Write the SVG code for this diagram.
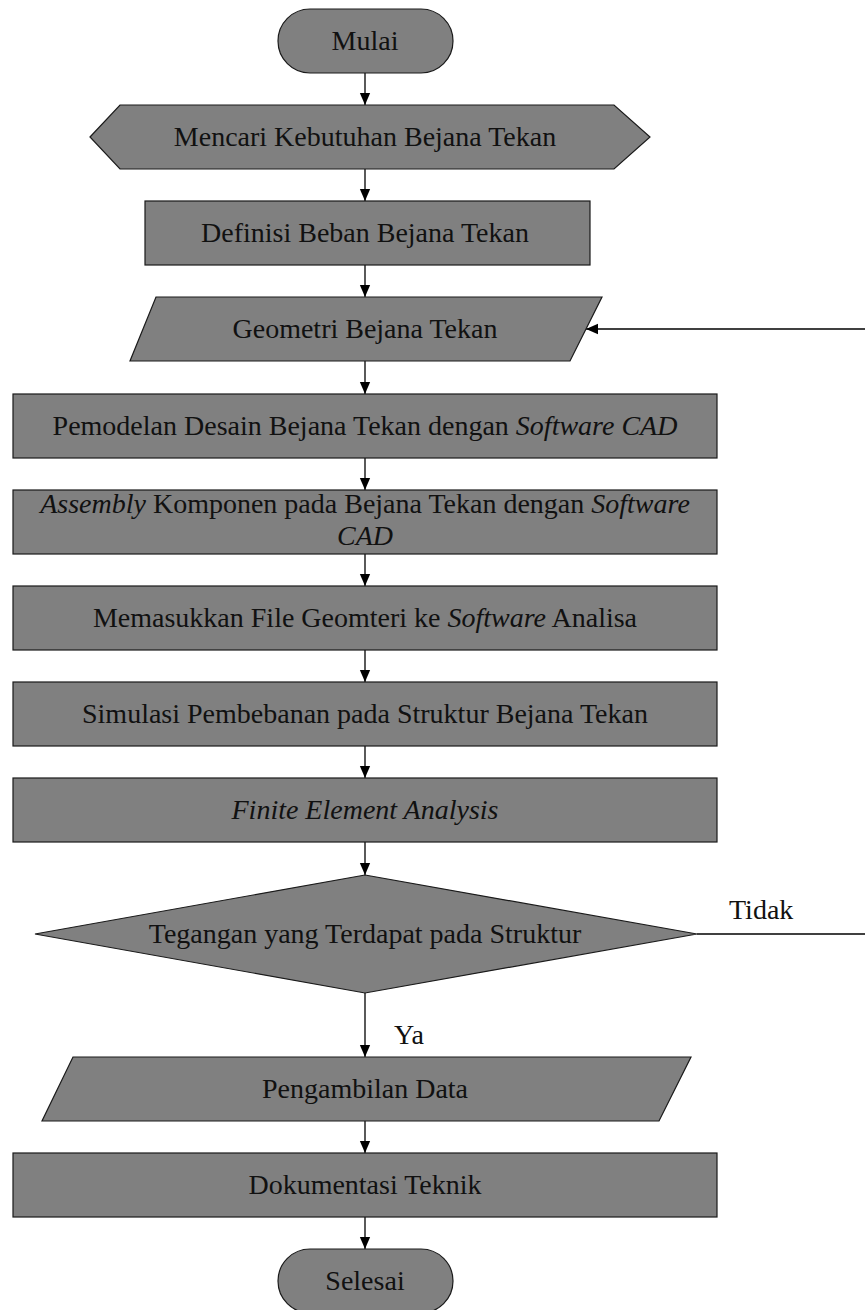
<svg xmlns="http://www.w3.org/2000/svg" width="865" height="1310" viewBox="0 0 865 1310">
<defs>
<marker id="ah" markerUnits="userSpaceOnUse" markerWidth="12" markerHeight="14" viewBox="0 0 14 12" refX="14" refY="6" orient="auto">
<path d="M0,0 L14,6 L0,12 z" fill="#000"/>
</marker>
<style>
.s{fill:#808080;stroke:#1a1a1a;stroke-width:1.2}
.t{font-family:"Liberation Serif","Times New Roman",serif;font-size:28px;fill:#111;text-anchor:middle}
.l{font-family:"Liberation Serif","Times New Roman",serif;font-size:28px;fill:#111}
.c{stroke:#000;stroke-width:1.3;fill:none}
.a{marker-end:url(#ah)}
</style>
</defs>
<rect width="865" height="1310" fill="#fff"/>
<g id="connectors">
<line class="c a" x1="365" y1="73" x2="365" y2="105"/>
<line class="c a" x1="365" y1="169" x2="365" y2="201"/>
<line class="c a" x1="365" y1="265" x2="365" y2="297"/>
<line class="c a" x1="365" y1="361" x2="365" y2="394"/>
<line class="c a" x1="365" y1="458" x2="365" y2="490"/>
<line class="c a" x1="365" y1="554" x2="365" y2="586"/>
<line class="c a" x1="365" y1="650" x2="365" y2="682"/>
<line class="c a" x1="365" y1="746" x2="365" y2="778"/>
<line class="c a" x1="365" y1="842" x2="365" y2="875"/>
<line class="c a" x1="365" y1="993" x2="365" y2="1057"/>
<line class="c a" x1="365" y1="1121" x2="365" y2="1153"/>
<line class="c a" x1="365" y1="1217" x2="365" y2="1249"/>
<line class="c a" x1="865" y1="329" x2="586" y2="329"/>
<line class="c" x1="697" y1="934" x2="865" y2="934"/>
<text class="l" x="729" y="919">Tidak</text>
<text class="l" x="394" y="1044">Ya</text>
</g>
<g id="n-mulai">
<rect class="s" x="278" y="9" width="175" height="64" rx="32" ry="32"/>
<text class="t" x="365" y="50">Mulai</text>
</g>
<g id="n-kebutuhan">
<polygon class="s" points="90,137 120,105 614,105 650,137 614,169 120,169"/>
<text class="t" x="365" y="146">Mencari Kebutuhan Bejana Tekan</text>
</g>
<g id="n-definisi">
<rect class="s" x="145" y="201" width="445" height="64"/>
<text class="t" x="365" y="242">Definisi Beban Bejana Tekan</text>
</g>
<g id="n-geometri">
<polygon class="s" points="156,297 602,297 570,361 130,361"/>
<text class="t" x="365" y="338">Geometri Bejana Tekan</text>
</g>
<g id="n-pemodelan">
<rect class="s" x="13" y="394" width="704" height="64"/>
<text class="t" x="365" y="435">Pemodelan Desain Bejana Tekan dengan <tspan font-style="italic">Software CAD</tspan></text>
</g>
<g id="n-assembly">
<rect class="s" x="13" y="490" width="704" height="64"/>
<text class="t" x="365" y="513"><tspan font-style="italic">Assembly</tspan> Komponen pada Bejana Tekan dengan <tspan font-style="italic">Software</tspan></text>
<text class="t" x="365" y="545" font-style="italic">CAD</text>
</g>
<g id="n-memasukkan">
<rect class="s" x="13" y="586" width="704" height="64"/>
<text class="t" x="365" y="627">Memasukkan File Geomteri ke <tspan font-style="italic">Software</tspan> Analisa</text>
</g>
<g id="n-simulasi">
<rect class="s" x="13" y="682" width="704" height="64"/>
<text class="t" x="365" y="723">Simulasi Pembebanan pada Struktur Bejana Tekan</text>
</g>
<g id="n-fea">
<rect class="s" x="13" y="778" width="704" height="64"/>
<text class="t" x="365" y="819" font-style="italic">Finite Element Analysis</text>
</g>
<g id="n-tegangan">
<polygon class="s" points="365,875 697,934 365,993 35,934"/>
<text class="t" x="365" y="943">Tegangan yang Terdapat pada Struktur</text>
</g>
<g id="n-pengambilan">
<polygon class="s" points="73,1057 691,1057 659,1121 42,1121"/>
<text class="t" x="365" y="1098">Pengambilan Data</text>
</g>
<g id="n-dokumentasi">
<rect class="s" x="13" y="1153" width="704" height="64"/>
<text class="t" x="365" y="1194">Dokumentasi Teknik</text>
</g>
<g id="n-selesai">
<rect class="s" x="278" y="1249" width="175" height="64" rx="32" ry="32"/>
<text class="t" x="365" y="1290">Selesai</text>
</g>
</svg>
